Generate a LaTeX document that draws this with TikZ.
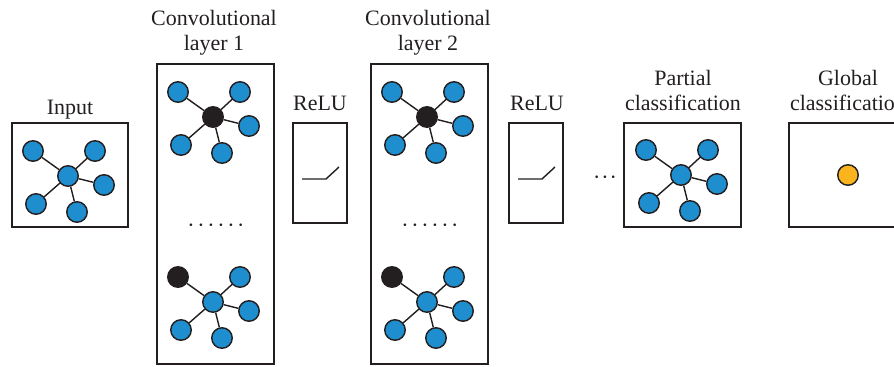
\documentclass[tikz,border=0pt]{standalone}
\usepackage{fontspec}
\setmainfont{Liberation Serif}
\definecolor{nblue}{RGB}{30,142,206}
\definecolor{nblack}{RGB}{35,31,32}
\definecolor{norange}{RGB}{251,180,30}
\newcommand{\gnet}[5]{%
  \node[gnode, fill=#4] (#3c) at (#1,#2) {};
  \node[gnode, fill=#5] (#3a) at (#1-35,#2-25) {};
  \node[gnode, fill=nblue] (#3b) at (#1+27,#2-25) {};
  \node[gnode, fill=nblue] (#3d) at (#1+36,#2+9) {};
  \node[gnode, fill=nblue] (#3e) at (#1-32,#2+28) {};
  \node[gnode, fill=nblue] (#3f) at (#1+9,#2+36) {};
  \draw[edge] (#3c) -- (#3a);
  \draw[edge] (#3c) -- (#3b);
  \draw[edge] (#3c) -- (#3d);
  \draw[edge] (#3c) -- (#3e);
  \draw[edge] (#3c) -- (#3f);
}
\begin{document}
\begin{tikzpicture}[x=0.02cm,y=-0.02cm,
  gnode/.style={circle, draw=nblack, line width=0.8pt, minimum size=0.41cm, inner sep=0pt},
  edge/.style={draw=nblack, line width=0.8pt},
  box/.style={draw=nblack, line width=0.8pt},
  lbl/.style={font=\fontsize{12.5}{13.5}\selectfont, align=center, text=nblack, inner sep=0pt, anchor=base},
  relu/.style={draw=nblack, line width=0.8pt}]
\useasboundingbox (0,0) rectangle (894,366);
\clip (0,0) rectangle (894,366);
% Input
\node[lbl] (tin) at (70,114) {Input};
\draw[box] (12,123) rectangle (128,227);
\gnet{68}{176}{g0}{nblue}{nblue}
% Conv layer 1
\node[lbl] (tc1a) at (214,25) {Convolutional};
\node[lbl] (tc1b) at (214,50) {layer 1};
\draw[box] (157,64) rectangle (274,364);
\gnet{213}{117}{g1}{nblack}{nblue}
\node[lbl] (d1) at (216,232) {\textperiodcentered\kern1.5pt\textperiodcentered\kern1.5pt\textperiodcentered\kern1.5pt\textperiodcentered\kern1.5pt\textperiodcentered\kern1.5pt\textperiodcentered};
\gnet{213}{302}{g2}{nblue}{nblack}
% ReLU 1
\node[lbl] (tr1) at (320,110) {ReLU};
\draw[box] (293,123) rectangle (347,223);
\coordinate (r1a) at (302,179);
\coordinate (r1b) at (326,179);
\coordinate (r1c) at (339,167);
\draw[relu] (r1a) -- (r1b) -- (r1c);
% Conv layer 2
\node[lbl] (tc2a) at (428,25) {Convolutional};
\node[lbl] (tc2b) at (428,50) {layer 2};
\draw[box] (371,64) rectangle (488,364);
\gnet{427}{117}{g3}{nblack}{nblue}
\node[lbl] (d2) at (430,232) {\textperiodcentered\kern1.5pt\textperiodcentered\kern1.5pt\textperiodcentered\kern1.5pt\textperiodcentered\kern1.5pt\textperiodcentered\kern1.5pt\textperiodcentered};
\gnet{427}{302}{g4}{nblue}{nblack}
% ReLU 2
\node[lbl] (tr2) at (537,110) {ReLU};
\draw[box] (509,123) rectangle (563,223);
\coordinate (r2a) at (518,179);
\coordinate (r2b) at (542,179);
\coordinate (r2c) at (555,167);
\draw[relu] (r2a) -- (r2b) -- (r2c);
% dots
\node[lbl] (dd) at (605,184) {\textperiodcentered\kern0.5pt\textperiodcentered\kern0.5pt\textperiodcentered};
% Partial classification
\node[lbl] (tp1) at (683,85) {Partial};
\node[lbl] (tp2) at (683,110) {classification};
\draw[box] (624,123) rectangle (741,227);
\gnet{681}{175}{g5}{nblue}{nblue}
% Global classification
\node[lbl] (tg1) at (848,85) {Global};
\node[lbl] (tg2) at (848,110) {classification};
\draw[box] (789,123) rectangle (906,227);
\node[gnode, fill=norange] (gg) at (848,175) {};
\end{tikzpicture}
\end{document}
